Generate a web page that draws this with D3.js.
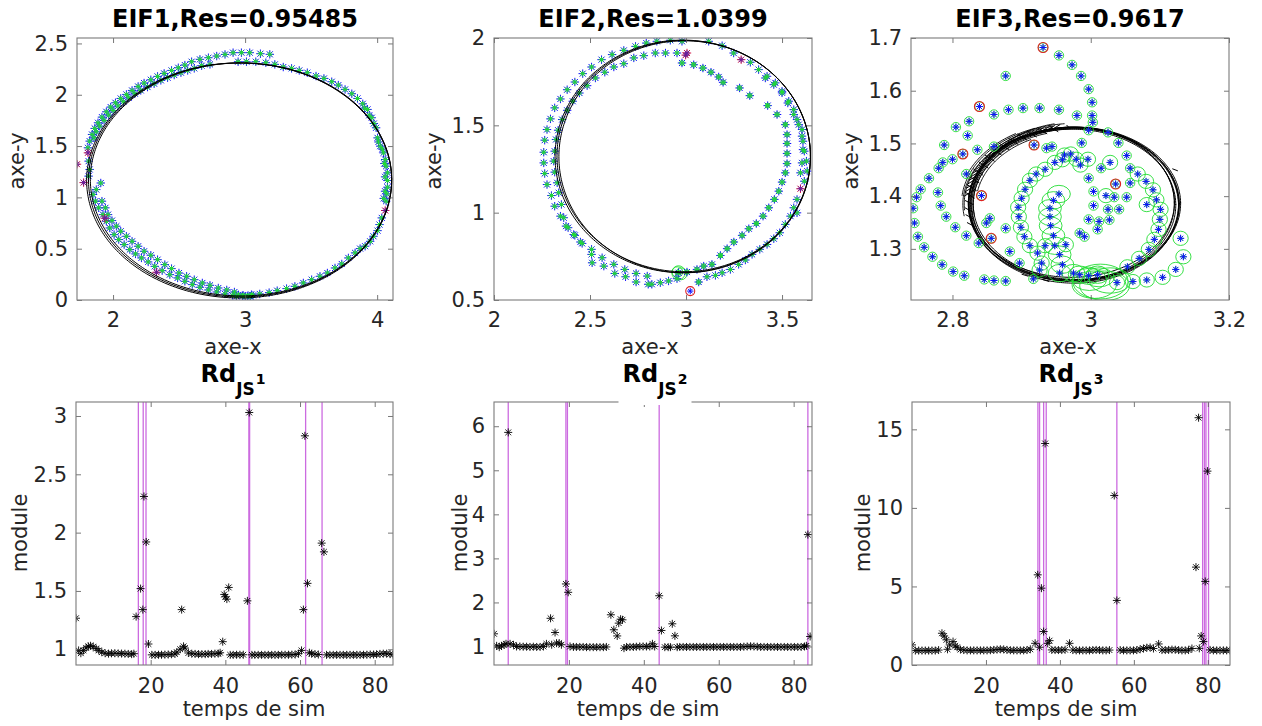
<!DOCTYPE html>
<html><head><meta charset="utf-8">
<script src="https://cdn.jsdelivr.net/npm/d3@7"></script>
<style>body{margin:0;background:#fff}svg text{font-family:"DejaVu Sans",sans-serif}</style>
</head><body><svg id="c" width="1262" height="726"></svg>
<script>
// ---------------- DATA ----------------
// EIF1 panel
const eif1Ticks = {x:[2,3,4], y:[0,0.5,1,1.5,2,2.5]};
const eif1Pts = [
[1.848,1.028],[1.866,0.963],[1.891,0.898],[1.924,0.832],[1.949,0.767],[1.975,0.702],[2.008,0.637],[2.043,0.589],[2.084,0.540],[2.127,0.491],[2.170,0.449],[2.215,0.410],[2.266,0.371],[2.316,0.328],[2.372,0.286],[2.430,0.247],[2.489,0.215],[2.544,0.182],[2.600,0.150],[2.658,0.124],[2.722,0.098],[2.785,0.078],[2.848,0.059],[2.904,0.046],
[1.873,1.076],[1.907,1.140],[1.916,0.963],[1.942,0.898],[1.962,0.832],[1.992,0.774],[2.025,0.719],[2.058,0.670],[2.101,0.621],[2.144,0.572],[2.190,0.524],[2.235,0.475],[2.286,0.436],[2.337,0.393],[2.392,0.345],[2.443,0.306],[2.499,0.263],[2.557,0.231],[2.615,0.198],[2.676,0.166],[2.734,0.143],[2.797,0.117],[2.861,0.098],[2.919,0.078],
[2.95,0.05],[2.98,0.04],[3.00,0.035],[3.02,0.04],[3.04,0.035],[3.06,0.045],
[1.815,1.353],[1.823,1.272],[1.815,1.207],
[1.810,1.483],[1.823,1.548],[1.841,1.613],[1.861,1.672],[1.886,1.727],[1.916,1.782],[1.949,1.834],[1.982,1.880],[2.018,1.922],[2.058,1.964],[2.101,2.003],[2.144,2.042],[2.190,2.081],[2.235,2.114],[2.286,2.146],[2.337,2.179],[2.387,2.208],[2.443,2.237],[2.494,2.263],[2.544,2.289],[2.595,2.322],[2.658,2.345],[2.722,2.361],[2.785,2.377],[2.848,2.393],[2.909,2.410],[2.972,2.410],[3.035,2.410],[3.116,2.400],[3.187,2.394],
[1.856,1.580],[1.873,1.639],[1.899,1.694],[1.932,1.750],[1.967,1.802],[2.000,1.847],[2.038,1.890],[2.078,1.932],[2.119,1.971],[2.165,2.010],[2.210,2.042],[2.261,2.075],[2.311,2.107],[2.362,2.140],[2.413,2.166],[2.463,2.192],[2.514,2.215],[2.565,2.237],[2.615,2.257],[2.671,2.283],[2.734,2.296],
[2.947,2.322],[3.010,2.322],[3.081,2.322],[3.157,2.312],[3.225,2.296],[3.289,2.270],[3.352,2.257],[3.410,2.237],[3.471,2.215],[3.537,2.182],[3.597,2.159],[3.656,2.127],[3.706,2.094],[3.757,2.052],[3.808,2.010],[3.851,1.964],[3.891,1.912],[3.927,1.857],[3.959,1.776],[3.992,1.678],[4.003,1.580],[4.023,1.499],[4.048,1.434],[4.061,1.369],[4.068,1.304],[4.078,1.239],[4.078,1.164],[4.078,1.099],[4.073,1.034],[4.068,0.963],
[4.035,0.800],[4.018,0.735],[4.003,0.676],[3.972,0.621],[3.947,0.572],[3.909,0.524],[3.871,0.501],[3.833,0.459],[3.782,0.410],[3.732,0.351],[3.681,0.312],[3.623,0.263],[3.567,0.231],[3.504,0.198],[3.441,0.166],[3.377,0.133],[3.314,0.111],[3.243,0.091],[3.182,0.072],[3.111,0.059],[3.048,0.052],[2.985,0.046],[2.934,0.036],
[3.905,1.870],[3.940,1.800],[3.975,1.720],[4.010,1.540],[4.040,1.470],[4.055,1.330],[4.060,1.200],[4.060,1.060],[4.050,0.990]
];
const eif1Outliers = [[1.727,1.323],[1.777,1.144],[1.810,1.434],[1.937,0.797],[2.329,0.270],[4.061,0.872]];
const eif1Cov = [[3.02,0.04,0.018,0.022],[3.035,0.035,0.022,0.025],[3.05,0.04,0.016,0.02]];
const eif1Fits = [[2.955,1.165,1.155,1.145],[2.962,1.170,1.148,1.140],[2.969,1.175,1.141,1.135]];

// EIF2 panel
const eif2Ticks = {x:[2,2.5,3,3.5], y:[0.5,1,1.5,2]};
const eif2Pts = [
[2.793,1.971],[2.737,1.952],[2.676,1.929],[2.615,1.905],[2.560,1.876],[2.508,1.834],[2.462,1.796],[2.421,1.748],[2.381,1.704],[2.346,1.651],[2.316,1.600],[2.294,1.537],[2.276,1.476],[2.264,1.415],[2.259,1.346],[2.259,1.285],[2.264,1.224],[2.276,1.161],[2.299,1.098],[2.316,1.037],[2.346,0.980],[2.386,0.914],[2.421,0.870],[2.459,0.824],[2.508,0.761],[2.511,0.713],[2.572,0.694],[2.629,0.652],[2.685,0.633],[2.740,0.603],[2.803,0.590],
[2.780,1.899],[2.728,1.886],[2.676,1.853],[2.624,1.834],[2.577,1.804],[2.528,1.771],[2.485,1.727],[2.445,1.685],[2.410,1.638],[2.381,1.586],[2.355,1.533],[2.334,1.472],[2.323,1.419],[2.316,1.352],[2.311,1.295],[2.316,1.232],[2.329,1.171],[2.337,1.114],[2.351,1.047],[2.363,0.971],[2.375,0.923],[2.415,0.875],[2.450,0.832],[2.508,0.790],[2.563,0.742],[2.624,0.704],[2.681,0.675],[2.740,0.652],[2.798,0.637],
[2.848,1.981],[2.918,1.987],[2.979,1.981],[2.840,1.914],[2.893,1.914],[2.953,1.914],
[3.118,1.981],[3.188,1.956],[3.248,1.914],[3.335,1.861],[3.378,1.819],[3.422,1.781],[3.465,1.743],[3.500,1.695],[3.535,1.638],[3.561,1.590],[3.578,1.533],[3.604,1.476],[3.609,1.409],[3.616,1.352],[3.627,1.295],[3.631,1.238],[3.616,1.180],[3.578,1.076],[3.561,1.028],[3.544,0.980],[3.517,0.933],[3.488,0.885],[3.457,0.851],[3.422,0.818],[3.384,0.790],[3.344,0.761],[3.309,0.729],[3.274,0.704],[3.231,0.675],[3.188,0.656],[3.153,0.641],[3.109,0.633],[2.953,0.622],[2.909,0.609],[2.866,0.599],[2.822,0.590],
[3.413,1.771],[3.457,1.733],[3.500,1.686],[3.530,1.628],[3.561,1.562],[3.587,1.504],[3.604,1.438],[3.609,1.361],[3.604,1.285],[3.596,1.228],[3.578,0.999]
];
const eif2Inner = [
[2.979,1.857],[3.040,1.847],[3.088,1.828],[3.130,1.804],[3.170,1.777],[3.193,1.746],[3.279,1.714],[3.332,1.670],[3.425,1.613],[3.474,1.562],[3.517,1.504],[3.526,1.447],[3.526,1.396],[3.526,1.339],[3.526,1.281],[3.517,1.228],[3.500,1.175],[3.483,1.123],[3.460,1.076],[3.431,1.028],[3.401,0.980],[3.366,0.938],[3.327,0.908],[3.292,0.870],[3.249,0.832],[3.214,0.794],[3.179,0.755],[3.135,0.704],[3.092,0.694],[3.057,0.675],[3.005,0.660],[2.961,0.656],[3.066,0.603]
];
const eif2Outliers = [[3.005,1.914],[2.998,1.902],[3.287,1.876],[3.596,1.137]];
const eif2RedRings = [[3.022,0.551]];
const eif2Cov = [[2.961,0.656,0.035,0.040],[2.955,0.660,0.028,0.030],[2.975,0.650,0.030,0.034]];
const eif2Fits = [[2.983,1.322,0.665,0.666],[2.988,1.324,0.660,0.662],[2.993,1.320,0.655,0.664]];

// EIF3 panel
const eif3Ticks = {x:[2.8,3,3.2], y:[1.3,1.4,1.5,1.6,1.7]};
const eif3Small = [
[2.931,1.682],[2.954,1.667],[2.973,1.649],[2.986,1.628],[2.997,1.603],[3.002,1.578],[3.002,1.553],[3.003,1.540],[2.877,1.628],[2.839,1.570],[2.860,1.555],[2.881,1.564],[2.902,1.567],[2.926,1.567],[2.954,1.564],[2.980,1.553],
[2.824,1.542],[2.805,1.531],[2.822,1.515],[2.788,1.497],[2.815,1.480],[2.800,1.470],[2.786,1.464],[2.780,1.453],[2.766,1.434],[2.754,1.413],[2.748,1.398],[2.743,1.377],[2.745,1.349],[2.750,1.323],[2.759,1.303],[2.771,1.285],[2.785,1.270],[2.801,1.257],[2.817,1.249],[2.846,1.242],[2.860,1.240],[2.877,1.239],
[2.836,1.488],[2.860,1.494],[2.820,1.442],[2.779,1.407],[2.783,1.382],[2.791,1.361],[2.804,1.341],[2.820,1.325],[2.838,1.311],[2.856,1.320],[2.854,1.358],[2.849,1.349],[2.877,1.339],[2.883,1.295],[2.897,1.273],[2.917,1.243],[2.842,1.401],
[2.997,1.525],[3.025,1.521],[2.987,1.501],[3.040,1.501],[3.052,1.477],[3.015,1.453],[3.057,1.453],[2.997,1.434],[3.036,1.423],[3.057,1.425],[3.004,1.409],[3.034,1.398],[3.052,1.398],[3.004,1.382],[3.025,1.375],[3.041,1.375],[2.997,1.356],[3.012,1.352],[3.027,1.355],[3.010,1.337],[2.984,1.330],[2.991,1.323],[2.918,1.497],[2.936,1.491],[2.944,1.494]
];
const eif3Medium = [
[2.962,1.478],[2.948,1.464],[2.959,1.469],[2.971,1.480],[2.979,1.470],[2.996,1.470],[2.985,1.459],[3.028,1.464],[2.934,1.451],[2.921,1.442],[2.912,1.430],[2.905,1.413],[2.900,1.396],[2.895,1.379],[2.896,1.361],[2.899,1.341],[2.904,1.323],[2.912,1.306],[2.923,1.292],
[3.068,1.442],[3.080,1.428],[3.090,1.412],[3.095,1.393],[3.101,1.375],[3.100,1.356],[3.098,1.337],[3.092,1.318],[3.084,1.299],[3.070,1.282],[3.053,1.266],[3.022,1.401],[3.081,1.384],
[3.130,1.320],[3.134,1.285],[3.123,1.261],[3.104,1.246],[3.081,1.241],[3.061,1.238],[3.038,1.236],[2.964,1.308],[2.934,1.306],[2.929,1.273],[2.926,1.260]
];
const eif3Large = [
[2.954,1.404],[2.946,1.392],[2.941,1.377],[2.941,1.361],[2.942,1.344],[2.946,1.325],[2.948,1.306],[2.955,1.289],[2.959,1.270],[2.955,1.254],[3.010,1.251],[2.997,1.249],[2.984,1.251],[2.975,1.254]
];
const eif3RedRings = [[2.931,1.682],[2.839,1.570],[2.815,1.480],[2.918,1.497],[2.842,1.401],[2.856,1.320],[3.036,1.423]];
const eif3Cov = [[3.014,1.238,0.040,0.033],[3.005,1.232,0.032,0.026],[3.020,1.230,0.036,0.028],[3.028,1.240,0.030,0.024],[2.998,1.242,0.025,0.021],[3.012,1.246,0.022,0.018]];
const eif3Fits = [[2.975,1.385,0.152,0.146],[2.973,1.383,0.150,0.144],[2.977,1.386,0.153,0.145],[2.972,1.388,0.149,0.142],[2.976,1.382,0.151,0.147],[2.978,1.384,0.150,0.146],[2.974,1.386,0.147,0.145],[2.979,1.385,0.149,0.143]];
// partial fitted arcs on the upper-left (cx, cy, rx, ry, start deg, end deg)
const eif3Arcs = [[2.975,1.385,0.158,0.150,100,185],[2.975,1.385,0.162,0.153,110,175],[2.975,1.385,0.145,0.139,105,190],[2.975,1.385,0.141,0.136,115,170],[2.976,1.386,0.155,0.152,95,150],[2.974,1.384,0.148,0.150,120,200],[2.975,1.385,0.165,0.155,120,160],[2.975,1.385,0.160,0.146,130,190],[2.975,1.385,0.146,0.155,100,140]];
const eif3Hairs = [
[2.941,1.524,2.956,1.536],[2.933,1.522,2.948,1.534],[2.925,1.520,2.940,1.532],[2.917,1.518,2.932,1.530],[2.910,1.515,2.925,1.527],[2.903,1.512,2.918,1.524],[2.896,1.509,2.911,1.521],[2.889,1.505,2.904,1.517],[2.882,1.501,2.897,1.513],[2.875,1.497,2.890,1.509],[2.869,1.492,2.884,1.504],[2.863,1.487,2.878,1.499],[2.858,1.481,2.873,1.493],[2.852,1.476,2.867,1.488],[2.847,1.470,2.862,1.482],[2.843,1.464,2.858,1.476],[2.838,1.457,2.853,1.469],[2.834,1.451,2.849,1.463],[2.830,1.444,2.845,1.456],[2.827,1.437,2.842,1.449],[2.824,1.430,2.839,1.442],[2.822,1.423,2.837,1.435],[2.820,1.415,2.835,1.427],[2.818,1.408,2.833,1.420],[2.817,1.400,2.832,1.412],
[2.939,1.534,2.953,1.522],[2.923,1.530,2.937,1.518],[2.908,1.524,2.922,1.512],[2.894,1.518,2.908,1.506],[2.881,1.510,2.895,1.498],[2.868,1.500,2.882,1.488],[2.857,1.490,2.871,1.478],[2.847,1.478,2.861,1.466],[2.838,1.465,2.852,1.453],[2.830,1.452,2.844,1.440],[2.825,1.437,2.839,1.425],[2.821,1.422,2.835,1.410],[2.818,1.408,2.832,1.396],
[2.818,1.392,2.830,1.384],[2.818,1.378,2.829,1.370],[2.819,1.365,2.830,1.357],[2.821,1.350,2.831,1.343],
[2.900,1.252,2.910,1.248],[2.930,1.242,2.940,1.238],[2.965,1.535,2.970,1.528],[3.118,1.452,3.126,1.448]
];

// Rd_JS time series
const rdXTicks = [20,40,60,80];
const rd1YTicks = [1,1.5,2,2.5,3];
const rd1 = [[0,1.266],[0.7,0.99],[1.3,0.966],[2.0,0.99],[2.7,1.012],[3.3,1.025],[3.9,1.03],[4.6,1.022],[5.4,1.006],[6.1,0.99],[6.9,0.975],[7.8,0.966],[8.7,0.962],[9.5,0.965],[10.4,0.966],[11.3,0.964],[12.2,0.963],[13.1,0.962],[14.0,0.96],[14.9,0.958],[15.5,0.962],[16.1,1.28],[17.3,1.52],[17.9,1.34],[18.2,2.31],[18.8,1.92],[19.4,1.045],[20.3,0.952],[21.2,0.952],[22.1,0.953],[22.9,0.953],[23.8,0.954],[24.7,0.955],[25.6,0.957],[26.5,0.96],[27.0,0.975],[27.9,1.0],[28.3,1.34],[28.8,1.025],[29.2,1.01],[30.1,0.968],[31.0,0.962],[31.9,0.96],[32.8,0.958],[33.7,0.958],[34.6,0.958],[35.4,0.96],[36.3,0.96],[37.2,0.962],[38.1,0.963],[38.6,0.97],[39.3,1.065],[39.7,1.47],[40.0,1.45],[40.4,1.43],[40.9,1.53],[41.3,0.952],[42.1,0.952],[43.0,0.953],[43.9,0.953],[44.8,0.953],[45.9,1.415],[46.4,3.03],[47.1,0.952],[47.9,0.952],[48.8,0.952],[49.7,0.952],[50.6,0.952],[51.5,0.952],[52.4,0.952],[53.3,0.952],[54.2,0.952],[55.1,0.953],[56.0,0.953],[56.9,0.953],[57.8,0.954],[58.7,0.955],[59.6,0.962],[60.4,0.99],[60.9,1.34],[61.3,2.83],[62.0,1.565],[62.5,0.97],[63.1,0.962],[64.0,0.958],[64.9,0.955],[65.8,1.91],[66.4,1.835],[67.1,0.952],[68.0,0.952],[68.9,0.952],[69.8,0.952],[70.7,0.952],[71.6,0.952],[72.5,0.952],[73.4,0.952],[74.3,0.952],[75.2,0.952],[76.1,0.952],[77.0,0.953],[77.9,0.953],[78.8,0.955],[79.7,0.955],[80.5,0.957],[81.4,0.96],[82.3,0.962],[83.2,0.962],[84.1,0.958],[84.9,0.955]];
const rd1Events = [16.7,18.0,18.75,46.3,46.5,61.5,65.9];
const rd2YTicks = [1,2,3,4,5,6];
const rd2 = [[0,1.288],[0.7,1.015],[1.4,0.985],[2.0,1.015],[2.7,1.038],[3.2,1.061],[3.8,5.86],[4.3,1.06],[5.2,1.038],[6.0,1.0],[6.9,1.0],[7.8,0.995],[8.7,0.995],[9.6,0.99],[10.5,0.995],[11.4,0.99],[12.3,0.99],[13.2,1.0],[14.0,1.06],[15.1,1.64],[15.4,1.04],[16.3,1.318],[16.7,1.076],[17.4,1.076],[18.0,1.04],[19.2,2.42],[19.8,2.23],[20.3,1.0],[21.2,0.99],[22.0,0.99],[22.9,0.99],[23.8,0.99],[24.7,0.985],[25.6,0.985],[26.5,0.985],[27.4,0.985],[28.3,0.985],[29.2,0.985],[30.0,0.99],[31.2,1.72],[32.0,1.38],[32.9,1.24],[33.3,1.53],[33.8,1.62],[34.3,1.606],[34.7,0.962],[35.4,0.99],[36.3,0.99],[37.2,0.99],[38.0,0.995],[38.9,1.0],[39.8,1.0],[40.7,1.0],[41.6,1.0],[42.3,1.061],[42.9,1.0],[44.1,2.152],[44.7,1.364],[45.6,0.985],[46.5,0.985],[47.1,0.985],[47.6,1.515],[48.3,1.242],[48.9,0.985],[49.6,0.99],[50.5,0.99],[51.4,0.99],[52.3,0.99],[53.2,0.99],[54.1,0.99],[55.0,0.99],[55.9,0.99],[56.8,0.99],[57.7,0.99],[58.6,0.99],[59.5,0.99],[60.4,0.99],[61.3,0.99],[62.2,0.99],[63.1,0.99],[64.0,0.99],[64.9,0.99],[65.8,0.99],[66.7,0.995],[67.6,1.0],[68.5,1.005],[69.4,1.0],[70.3,0.995],[71.2,0.99],[72.1,0.99],[73.0,0.99],[73.9,0.99],[74.8,0.99],[75.7,0.99],[76.6,0.99],[77.5,0.99],[78.4,0.99],[79.3,0.99],[80.2,0.99],[81.1,0.99],[82.0,0.99],[82.9,1.0],[83.4,1.015],[83.8,3.54],[84.4,1.227]];
const rd2Events = [3.8,19.2,19.6,44.1,83.8];
const rd3YTicks = [0,5,10,15];
const rd3 = [[0,1.28],[0.9,0.92],[1.8,0.92],[2.7,0.92],[3.6,0.92],[4.5,0.92],[5.4,0.92],[6.3,0.92],[7.2,0.95],[8.1,2.02],[8.7,1.85],[9.3,1.6],[9.6,1.0],[10.2,1.28],[11.1,1.49],[11.7,1.21],[12.2,1.13],[13.1,0.98],[14.0,0.95],[14.9,0.93],[15.8,0.93],[16.7,0.93],[17.6,0.93],[18.5,0.93],[19.4,0.93],[20.3,0.93],[21.2,0.94],[22.1,0.96],[23.0,0.98],[23.9,1.0],[24.8,0.99],[25.7,0.96],[26.6,0.94],[27.5,0.93],[28.4,0.93],[29.3,0.93],[30.2,0.93],[31.1,0.95],[32.0,1.0],[33.3,1.38],[34.0,5.74],[34.5,1.13],[35.0,4.89],[35.6,2.13],[36.0,14.1],[36.7,1.38],[37.2,1.55],[37.8,0.96],[38.7,0.95],[39.6,0.95],[40.5,0.95],[41.4,0.97],[42.6,1.38],[43.5,0.95],[44.4,0.93],[45.3,0.93],[46.2,0.93],[47.1,0.93],[48.0,0.93],[48.9,0.95],[49.8,0.96],[50.7,0.95],[51.6,0.93],[52.5,0.93],[53.4,0.95],[54.7,10.79],[55.4,4.11],[56.3,0.95],[57.2,0.93],[58.1,0.93],[59.0,0.93],[59.9,0.93],[60.8,0.95],[61.7,1.0],[62.6,1.05],[63.5,1.1],[64.4,1.12],[65.3,1.05],[66.7,1.34],[67.6,0.95],[68.5,0.95],[69.4,0.96],[70.3,0.98],[71.2,0.97],[72.1,0.95],[73.0,0.93],[73.9,0.93],[74.8,0.95],[75.7,1.05],[76.8,6.23],[77.5,15.74],[77.7,1.06],[78.2,1.85],[78.8,1.49],[79.3,5.32],[79.9,12.34],[80.6,0.96],[81.5,0.93],[82.4,0.93],[83.3,0.93],[84.2,0.93],[85.1,0.93],[86.0,0.93]];
const rd3Events = [34.05,34.5,35.6,36.3,55.4,78.6,79.1,79.5,80.2];

// ---------------- DRAWING ----------------
const svg = d3.select("#c");
const TXT = "#262626";
const BLUE = "#1010ff", GREEN = "#22dd33", MAG = "#cc6be0";

function starPath(cx, cy, s) {
  const d = s * 0.72;
  return `M${cx-s},${cy}L${cx+s},${cy}M${cx},${cy-s}L${cx},${cy+s}M${cx-d},${cy-d}L${cx+d},${cy+d}M${cx-d},${cy+d}L${cx+d},${cy-d}`;
}

let clipN = 0;
function makePanel(box, xd, yd) {
  const x = d3.scaleLinear().domain(xd).range([box.x0, box.x1]);
  const y = d3.scaleLinear().domain(yd).range([box.y1, box.y0]);
  const id = "clip" + (clipN++);
  svg.append("clipPath").attr("id", id).append("rect")
    .attr("x", box.x0).attr("y", box.y0).attr("width", box.x1 - box.x0).attr("height", box.y1 - box.y0);
  const plot = svg.append("g").attr("clip-path", `url(#${id})`);
  return {box, x, y, plot};
}

function stars(p, pts, color, s, w) {
  p.plot.append("g").selectAll("path").data(pts).join("path")
    .attr("d", d => starPath(p.x(d[0]), p.y(d[1]), s))
    .attr("stroke", color).attr("stroke-width", w || 1).attr("fill", "none");
}
function covEllipses(p, pts, rx, ry, color, w) {
  p.plot.append("g").selectAll("ellipse").data(pts).join("ellipse")
    .attr("cx", d => p.x(d[0])).attr("cy", d => p.y(d[1]))
    .attr("rx", d => Math.abs(p.x(d[0] + (d.length > 2 ? d[2] : rx)) - p.x(d[0])))
    .attr("ry", d => Math.abs(p.y(d[1] + (d.length > 3 ? d[3] : ry)) - p.y(d[1])))
    .attr("fill", "none").attr("stroke", color).attr("stroke-width", w || 0.9);
}
function rings(p, pts, r, color) {
  p.plot.append("g").selectAll("circle").data(pts).join("circle")
    .attr("cx", d => p.x(d[0])).attr("cy", d => p.y(d[1])).attr("r", r)
    .attr("fill", "none").attr("stroke", color).attr("stroke-width", 1.1);
}
const angles = d3.range(0, 2 * Math.PI + 0.02, 0.02);
function fits(p, list, w) {
  list.forEach(e => {
    const a0 = e.length > 4 ? e[4] * Math.PI / 180 : 0;
    const a1 = e.length > 4 ? e[5] * Math.PI / 180 : 2 * Math.PI + 0.02;
    const angs = angles.filter(a => a >= a0 && a <= a1);
    const line = d3.line().x(a => p.x(e[0] + e[2] * Math.cos(a))).y(a => p.y(e[1] + e[3] * Math.sin(a)));
    p.plot.append("path").attr("d", line(angs)).attr("fill", "none").attr("stroke", "#000").attr("stroke-width", w || 1);
  });
}

function frame(p, xt, yt, xpad) {
  const {box, x, y} = p;
  const fmt = d3.format("~g");
  const gx = svg.append("g").attr("transform", `translate(0,${box.y1})`)
    .call(d3.axisBottom(x).tickValues(xt).tickSize(-5).tickPadding(xpad).tickFormat(fmt));
  const gy = svg.append("g").attr("transform", `translate(${box.x0},0)`)
    .call(d3.axisLeft(y).tickValues(yt).tickSize(-5).tickPadding(9).tickFormat(fmt));
  const gt = svg.append("g").attr("transform", `translate(0,${box.y0})`)
    .call(d3.axisTop(x).tickValues(xt).tickSize(-5).tickFormat(""));
  const gr = svg.append("g").attr("transform", `translate(${box.x1},0)`)
    .call(d3.axisRight(y).tickValues(yt).tickSize(-5).tickFormat(""));
  [gx, gy, gt, gr].forEach(g => {
    g.select(".domain").remove();
    g.selectAll(".tick line").attr("stroke", "#555").attr("stroke-width", 0.8);
    g.selectAll(".tick text").attr("fill", TXT).style("font-size", "21px").style("font-family", "DejaVu Sans");
  });
  svg.append("rect").attr("x", box.x0).attr("y", box.y0).attr("width", box.x1 - box.x0).attr("height", box.y1 - box.y0)
    .attr("fill", "none").attr("stroke", "#7a7a7a").attr("stroke-width", 1.1);
}
function xLabel(txt, cx, by) {
  svg.append("text").attr("x", cx).attr("y", by).attr("text-anchor", "middle")
    .attr("fill", TXT).style("font-size", "21px").text(txt);
}
function yLabel(txt, bx, cy) {
  svg.append("text").attr("transform", `translate(${bx},${cy}) rotate(-90)`).attr("text-anchor", "middle")
    .attr("fill", TXT).style("font-size", "21px").text(txt);
}
function topTitle(txt, cx) {
  svg.append("text").attr("x", cx).attr("y", 27).attr("text-anchor", "middle")
    .style("font-size", "24px").style("font-weight", "bold").attr("fill", "#000").text(txt);
}
function rdTitle(k, cx, boxed) {
  const g = svg.append("g");
  const t = g.append("text").attr("x", cx).attr("y", 382).attr("text-anchor", "middle")
    .style("font-weight", "bold").attr("fill", "#000");
  t.append("tspan").style("font-size", "24px").text("Rd");
  t.append("tspan").style("font-size", "17px").attr("dy", 13).text("JS");
  t.append("tspan").style("font-size", "14px").attr("dy", -11).attr("dx", 1).text(String(k));
  if (boxed) {
    const bb = t.node().getBBox();
    g.insert("rect", "text").attr("x", bb.x - 4).attr("y", bb.y - 2).attr("width", bb.width + 8).attr("height", 405 - bb.y + 2)
      .attr("fill", "#fff");
  }
}

// ----- EIF1 -----
const p1 = makePanel({x0:77, x1:393, y0:38, y1:300}, [1.727, 4.12], [0, 2.553]);
covEllipses(p1, eif1Cov, 0, 0, GREEN);
stars(p1, eif1Pts, BLUE, 4.2, 1);
stars(p1, eif1Pts, GREEN, 2.8, 1);
stars(p1, eif1Outliers, "#d01040", 4.2, 1);
stars(p1, eif1Outliers, "#6020a0", 3, 0.9);
fits(p1, eif1Fits, 1);
frame(p1, eif1Ticks.x, eif1Ticks.y, 12);
topTitle("EIF1,Res=0.95485", 235);
xLabel("axe-x", 233, 354);
yLabel("axe-y", 24, 161);

// ----- EIF2 -----
const p2 = makePanel({x0:494, x1:812, y0:38, y1:300}, [2, 3.656], [0.5, 2]);
covEllipses(p2, eif2Inner, 0.012, 0.014, GREEN);
covEllipses(p2, eif2Cov, 0, 0, GREEN);
const eif2All = eif2Pts.concat(eif2Inner);
stars(p2, eif2All, BLUE, 4.2, 1);
stars(p2, eif2All, GREEN, 2.8, 1);
rings(p2, eif2RedRings, 4.5, "#e02020");
stars(p2, eif2RedRings, BLUE, 3.2, 1);
stars(p2, eif2Outliers, "#d01040", 4.2, 1);
stars(p2, eif2Outliers, "#6020a0", 3, 0.9);
fits(p2, eif2Fits, 1);
frame(p2, eif2Ticks.x, eif2Ticks.y, 12);
topTitle("EIF2,Res=1.0399", 653);
xLabel("axe-x", 650, 354);
yLabel("axe-y", 441, 161);

// ----- EIF3 -----
const p3 = makePanel({x0:911, x1:1229, y0:38, y1:300}, [2.74, 3.2], [1.203, 1.7]);
fits(p3, eif3Fits, 1);
fits(p3, eif3Arcs, 0.9);
p3.plot.append("g").selectAll("line").data(eif3Hairs).join("line")
  .attr("x1", d => p3.x(d[0])).attr("y1", d => p3.y(d[1])).attr("x2", d => p3.x(d[2])).attr("y2", d => p3.y(d[3]))
  .attr("stroke", "#000").attr("stroke-width", 1);
covEllipses(p3, eif3Small, 0.0068, 0.0088, GREEN);
covEllipses(p3, eif3Medium, 0.0110, 0.0135, GREEN);
covEllipses(p3, eif3Large, 0.0165, 0.0165, GREEN);
covEllipses(p3, eif3Cov, 0, 0, GREEN);
rings(p3, eif3RedRings, 5, "#e02020");
const eif3All = eif3Small.concat(eif3Medium, eif3Large);
stars(p3, eif3All, GREEN, 3.2, 1);
stars(p3, eif3All, BLUE, 3.6, 1);
frame(p3, eif3Ticks.x, eif3Ticks.y, 12);
topTitle("EIF3,Res=0.9617", 1070);
xLabel("axe-x", 1068, 354);
yLabel("axe-y", 858, 161);

// ----- Rd panels -----
function rdPanel(box, xd, yd, data, events, yt, labX, xlabCx) {
  const p = makePanel(box, xd, yd);
  p.plot.append("g").selectAll("line").data(events).join("line")
    .attr("x1", d => p.x(d)).attr("x2", d => p.x(d)).attr("y1", box.y0).attr("y2", box.y1)
    .attr("stroke", MAG).attr("stroke-width", 1.3);
  stars(p, data, "#000", 4, 0.9);
  frame(p, rdXTicks, yt, 13);
  xLabel("temps de sim", xlabCx, 716);
  yLabel("module", labX, 533);
  return p;
}
rdPanel({x0:76, x1:393, y0:402, y1:665}, [0, 84.9], [0.865, 3.12], rd1, rd1Events, rd1YTicks, 27, 254);
rdPanel({x0:494, x1:812, y0:402, y1:665}, [0, 84.9], [0.58, 6.55], rd2, rd2Events, rd2YTicks, 467, 648);
rdPanel({x0:912, x1:1230, y0:402, y1:665}, [0, 86], [0, 16.74], rd3, rd3Events, rd3YTicks, 870, 1066);
rdTitle(1, 233, false);
rdTitle(2, 655, true);
rdTitle(3, 1071, false);
</script></body></html>
